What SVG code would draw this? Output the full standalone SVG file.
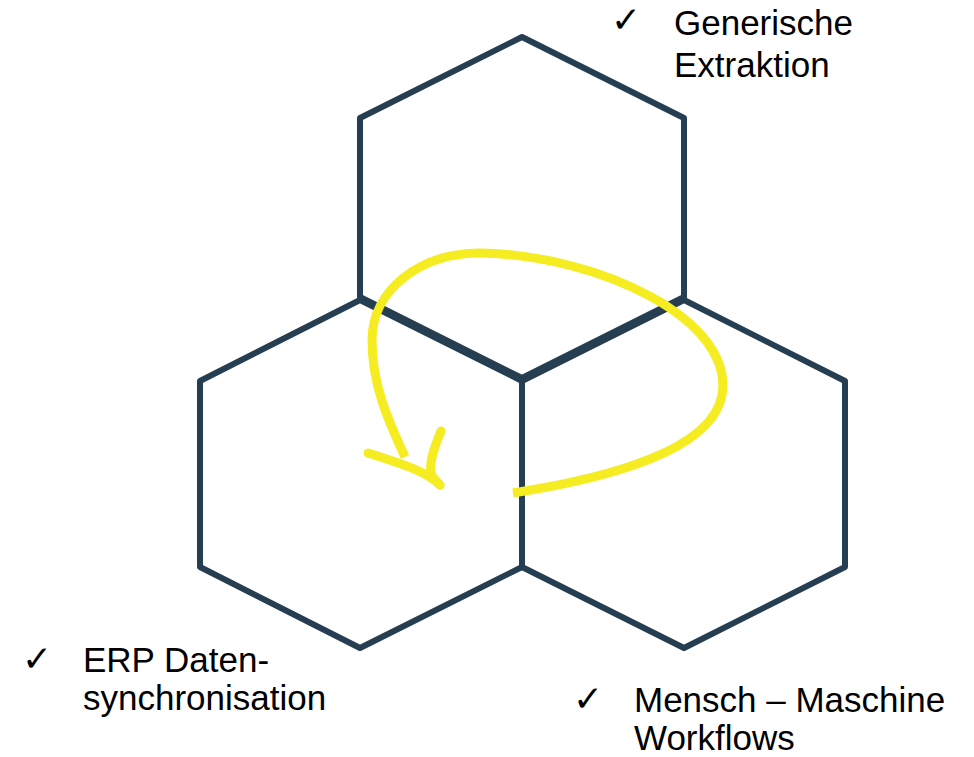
<svg xmlns="http://www.w3.org/2000/svg" width="974" height="757" viewBox="0 0 974 757">
  <style>
    .hex { fill: none; stroke: #253E51; stroke-width: 6; stroke-linejoin: round; }
    .lbl { font-family: "Liberation Sans", Arial, sans-serif; font-size: 35px; fill: #000; }
    .chk { font-family: "DejaVu Sans", sans-serif; font-size: 36px; fill: #000; }
    .yl { fill: none; stroke: #F5EC22; stroke-width: 9; }
  </style>
  <rect width="974" height="757" fill="#fff"/>
  <g id="hex-top">
    <polygon class="hex" points="522,37 684,118 684,297 522,378 360,297 360,118"/>
  </g>
  <g id="hex-left">
    <polygon class="hex" points="360,300 522,381 522,567 360,648 200,567 200,381"/>
  </g>
  <g id="hex-right">
    <polygon class="hex" points="684,300 845,381 845,567 684,648 522,567 522,381"/>
  </g>
  <g id="connectors">
    <path class="yl" stroke-linecap="butt" d="M513,493 C610,478 712,450 722,395 C735,320 600,255 480,253 C420,253 372,290 372,340 C372,385 388,420 405,457"/>
    <path class="yl" stroke-linecap="round" d="M368,453 C395,462 425,470 440,485"/>
    <path class="yl" stroke-linecap="round" stroke-linejoin="round" d="M441,431 C433,450 428,466 432,476 L440,485"/>
  </g>
  <g id="label-top">
    <text class="chk" x="611" y="32">✓</text>
    <text class="lbl" x="674" y="35">Generische</text>
    <text class="lbl" x="674" y="77">Extraktion</text>
  </g>
  <g id="label-left">
    <text class="chk" x="22" y="671">✓</text>
    <text class="lbl" x="83" y="672">ERP Daten-</text>
    <text class="lbl" x="83" y="710">synchronisation</text>
  </g>
  <g id="label-right">
    <text class="chk" x="573" y="711">✓</text>
    <text class="lbl" x="634" y="712">Mensch – Maschine</text>
    <text class="lbl" x="634" y="750">Workflows</text>
  </g>
</svg>
